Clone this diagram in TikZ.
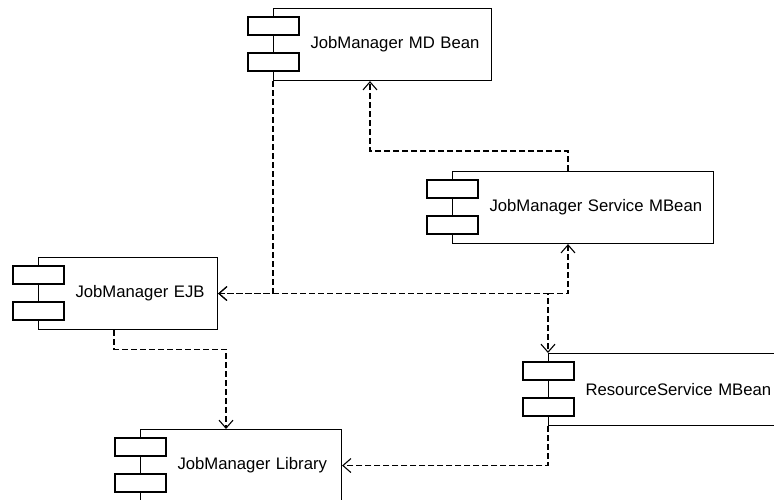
\documentclass[tikz,border=0pt]{standalone}
\usepackage{fontspec}
\setmainfont{Liberation Sans}
\usetikzlibrary{arrows.meta, calc}

\begin{document}
\begin{tikzpicture}[
        x=1pt, y=-1pt,
        line width=1.1pt,
        >={Straight Barb[length=8pt, width=14pt]},
        comp/.style={draw, rectangle, anchor=north west, minimum height=72pt, inner xsep=0pt,
            align=left, font=\fontsize{16.7}{19}\selectfont, execute at begin node={\hspace*{37pt}}},
        tab/.style={draw, fill=white},
        dep/.style={dashed, dash pattern=on 6pt off 3pt, ->}
    ]
    \useasboundingbox (0,0) rectangle (774,500);
    \clip (0,0) rectangle (774,500);

    % Components
    \node [comp, text width=218pt] (mdb) at (273,8) {JobManager MD Bean};
    \node [comp, text width=261pt] (svc) at (452,171) {JobManager Service MBean};
    \node [comp, text width=179pt] (ejb) at (38,257) {JobManager EJB};
    \node [comp, text width=260pt] (res) at (548,353) {ResourceService MBean};
    \node [comp, text width=201pt] (lib) at (140,429) {JobManager Library};

    % Component tabs
    \foreach \c in {mdb, svc, ejb, res, lib} {
        \draw[tab] ([xshift=-25pt, yshift=-9pt]\c.north west) rectangle ++(51pt,-18pt);
        \draw[tab] ([xshift=-25pt, yshift=-45pt]\c.north west) rectangle ++(51pt,-18pt);
    }

    % Dependencies
    \coordinate (split) at (res.north west |- ejb.east);
    \draw[dep] (mdb.south west) |- (ejb.east);
    \draw[dep] ([xshift=116pt]svc.north west) -- ++(0,20pt) -| ([xshift=97pt]mdb.south west);
    \draw[dep, <->] (ejb.east) -| (res.north west);
    \draw[dep] (split) -| ([xshift=116pt]svc.south west);
    \draw[dep] ([xshift=76pt]ejb.south west) -- ++(0,-19pt) -| ([xshift=86pt]lib.north west);
    \draw[dep] (res.south west) |- (lib.east);

\end{tikzpicture}
\end{document}
